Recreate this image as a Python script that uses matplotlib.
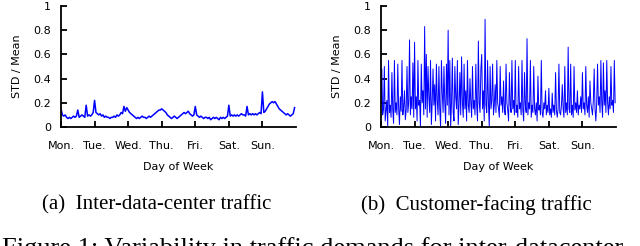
import numpy as np
import matplotlib
matplotlib.use('Agg')
from matplotlib import pyplot as plt

# day-of-week tick labels
days = ['Mon.', 'Tue.', 'Wed.', 'Thu.', 'Fri.', 'Sat.', 'Sun.']

# (a) inter-data-center traffic, STD/mean, one value per hour
inter_dc = [
    0.15, 0.10, 0.09, 0.10, 0.08, 0.07, 0.08, 0.07, 0.08, 0.09, 0.08, 0.09,
    0.14, 0.08, 0.09, 0.10, 0.09, 0.08, 0.18, 0.09, 0.10, 0.09, 0.10, 0.12,
    0.22, 0.12, 0.11, 0.10, 0.11, 0.09, 0.10, 0.08, 0.09, 0.08, 0.08, 0.07,
    0.08, 0.08, 0.09, 0.08, 0.10, 0.09, 0.10, 0.12, 0.11, 0.17, 0.13, 0.16,
    0.14, 0.12, 0.11, 0.10, 0.09, 0.08, 0.07, 0.08, 0.07, 0.08, 0.09, 0.08,
    0.08, 0.07, 0.08, 0.09, 0.08, 0.09, 0.10, 0.11, 0.12, 0.13, 0.14, 0.14,
    0.15, 0.14, 0.13, 0.12, 0.10, 0.09, 0.08, 0.07, 0.08, 0.09, 0.08, 0.07,
    0.08, 0.09, 0.10, 0.11, 0.12, 0.11, 0.12, 0.13, 0.11, 0.10, 0.09, 0.10,
    0.17, 0.10, 0.09, 0.08, 0.09, 0.08, 0.07, 0.08, 0.08, 0.07, 0.08, 0.06,
    0.07, 0.08, 0.07, 0.08, 0.07, 0.06, 0.08, 0.07, 0.08, 0.07, 0.08, 0.09,
    0.18, 0.09, 0.10, 0.09, 0.10, 0.09, 0.10, 0.09, 0.10, 0.11, 0.10, 0.10,
    0.09, 0.17, 0.10, 0.11, 0.10, 0.11, 0.10, 0.11, 0.10, 0.11, 0.12, 0.11,
    0.29, 0.12, 0.13, 0.15, 0.17, 0.19, 0.20, 0.21, 0.20, 0.21, 0.19, 0.17,
    0.15, 0.14, 0.13, 0.12, 0.11, 0.10, 0.11, 0.10, 0.09, 0.10, 0.11, 0.16,
]

# (b) customer-facing traffic, STD/mean, 40 samples per day
customer = [
    # Mon
    0.20, 0.48, 0.10, 0.15, 0.50, 0.05, 0.13, 0.22, 0.00, 0.55,
    0.12, 0.18, 0.08, 0.45, 0.14, 0.03, 0.55, 0.12, 0.20, 0.10,
    0.52, 0.15, 0.02, 0.25, 0.13, 0.55, 0.10, 0.17, 0.30, 0.06,
    0.14, 0.50, 0.12, 0.20, 0.72, 0.10, 0.25, 0.15, 0.53, 0.08,
    # Tue
    0.70, 0.15, 0.25, 0.05, 0.55, 0.18, 0.22, 0.00, 0.52, 0.20,
    0.30, 0.10, 0.83, 0.15, 0.60, 0.08, 0.50, 0.25, 0.12, 0.55,
    0.02, 0.20, 0.48, 0.18, 0.35, 0.05, 0.52, 0.22, 0.10, 0.50,
    0.15, 0.00, 0.55, 0.28, 0.12, 0.50, 0.20, 0.03, 0.52, 0.18,
    # Wed
    0.80, 0.10, 0.55, 0.00, 0.20, 0.57, 0.12, 0.05, 0.50, 0.25,
    0.15, 0.55, 0.02, 0.18, 0.45, 0.10, 0.58, 0.20, 0.08, 0.52,
    0.15, 0.30, 0.05, 0.55, 0.18, 0.12, 0.40, 0.20, 0.08, 0.50,
    0.15, 0.22, 0.10, 0.52, 0.18, 0.05, 0.71, 0.20, 0.12, 0.48,
    # Thu
    0.60, 0.15, 0.30, 0.05, 0.89, 0.18, 0.12, 0.55, 0.20, 0.00,
    0.50, 0.15, 0.22, 0.52, 0.10, 0.18, 0.35, 0.12, 0.55, 0.20,
    0.15, 0.08, 0.50, 0.18, 0.25, 0.12, 0.38, 0.15, 0.10, 0.52,
    0.20, 0.14, 0.05, 0.45, 0.18, 0.12, 0.55, 0.15, 0.22, 0.10,
    # Fri
    0.55, 0.12, 0.18, 0.08, 0.50, 0.15, 0.20, 0.10, 0.55, 0.14,
    0.05, 0.45, 0.18, 0.12, 0.73, 0.10, 0.20, 0.15, 0.55, 0.08,
    0.18, 0.12, 0.50, 0.15, 0.10, 0.20, 0.05, 0.42, 0.14, 0.18,
    0.10, 0.55, 0.12, 0.08, 0.20, 0.15, 0.30, 0.10, 0.18, 0.12,
    # Sat
    0.32, 0.10, 0.15, 0.08, 0.28, 0.12, 0.18, 0.10, 0.45, 0.14,
    0.08, 0.15, 0.52, 0.12, 0.10, 0.18, 0.35, 0.15, 0.08, 0.50,
    0.12, 0.20, 0.10, 0.66, 0.15, 0.12, 0.52, 0.10, 0.18, 0.08,
    0.50, 0.14, 0.20, 0.12, 0.30, 0.10, 0.18, 0.15, 0.25, 0.12,
    # Sun
    0.45, 0.15, 0.20, 0.10, 0.50, 0.18, 0.12, 0.25, 0.08, 0.38,
    0.20, 0.15, 0.10, 0.22, 0.48, 0.15, 0.05, 0.20, 0.52, 0.18,
    0.25, 0.12, 0.55, 0.20, 0.08, 0.53, 0.18, 0.30, 0.12, 0.55,
    0.20, 0.10, 0.25, 0.15, 0.50, 0.18, 0.22, 0.12, 0.55, 0.20,
]

captions = ['(a)  Inter-data-center traffic', '(b)  Customer-facing traffic']
fig_caption = 'Figure 1: Variability in traffic demands for inter-datacenter'

fig = plt.figure(figsize=(6.4, 2.46), dpi=100)
ax_a = fig.add_axes([61 / 640, 1 - 127 / 246, 235 / 640, 121 / 246])
ax_b = fig.add_axes([381 / 640, 1 - 127 / 246, 235 / 640, 121 / 246])

series = [inter_dc, customer]
for ax, y, lw in zip((ax_a, ax_b), series, (1.1, 0.7)):
    y = np.array(y)
    x = np.arange(len(y)) * 7.0 / len(y)
    ax.plot(x, y, color='#0000ff', lw=lw)
    ax.set_xlim(0, 7)
    ax.set_ylim(0, 1)
    ax.set_xticks(range(7))
    ax.set_xticklabels(days)
    ax.set_yticks([0, 0.2, 0.4, 0.6, 0.8, 1])
    ax.set_yticklabels(['0', '0.2', '0.4', '0.6', '0.8', '1'])
    for s in ('top', 'right'):
        ax.spines[s].set_visible(False)
    for s in ('left', 'bottom'):
        ax.spines[s].set_linewidth(1.3)
    ax.tick_params(direction='in', length=4, width=1.3, labelsize=8)
    ax.tick_params(axis='x', pad=10)
    ax.tick_params(axis='y', pad=7)
    ax.set_xlabel('Day of Week', fontsize=8, labelpad=8)
    ax.set_ylabel('STD / Mean', fontsize=8, labelpad=8)

for xc, txt in zip((0.245, 0.745), captions):
    fig.text(xc, 1 - 205 / 246, txt, ha='center', va='center',
             family='Liberation Serif', fontsize=15)
# the page caption is cut by the bottom edge in the reference as well
fig.text(0.003, 1 - 237 / 246, fig_caption, ha='left', va='top',
         family='Liberation Serif', fontsize=19)

fig.savefig('out.png', dpi=100)
